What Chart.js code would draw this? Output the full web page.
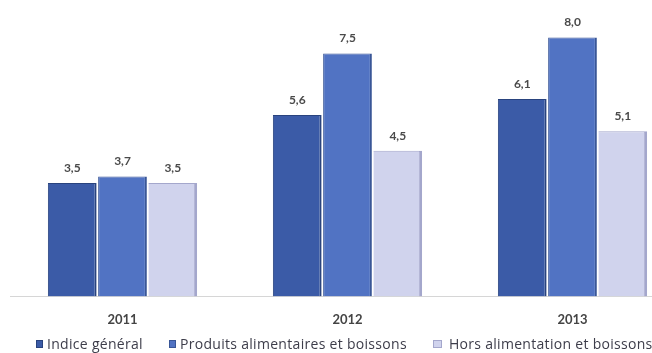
<!DOCTYPE html>
<html lang="fr">
<head>
    <meta charset="UTF-8">
    <title>Inflation 2011-2013</title>
    <script src="https://cdn.jsdelivr.net/npm/chart.js"></script>
    <style>
        body {
            margin: 0;
            background: #ffffff;
            overflow: hidden;
        }
        .chart-box {
            width: 695px;
            height: 353px;
            position: relative;
        }
        .legend {
            position: absolute;
            left: 36px;
            top: 335px;
            display: flex;
            gap: 26px;
            font-family: "Open Sans", sans-serif;
            font-size: 14px;
            letter-spacing: 0.3px;
            color: #3d3d4a;
            line-height: 18px;
            white-space: nowrap;
        }
        .legend span {
            display: flex;
            align-items: center;
        }
        .legend i {
            display: inline-block;
            width: 5px;
            height: 6px;
            margin-right: 4px;
        }
        .legend span:last-child i {
            width: 7px;
            margin-right: 7px;
        }
    </style>
</head>
<body>
    <div class="chart-box">
        <canvas id="inflationChart"></canvas>
        <div class="legend" id="legend"></div>
    </div>

    <script>
        const years = ['2011', '2012', '2013'];
        const seriesNames = ['Indice général', 'Produits alimentaires et boissons', 'Hors alimentation et boissons'];
        const indiceGeneral = [3.5, 5.6, 6.1];
        const produitsAlimentaires = [3.7, 7.5, 8.0];
        const horsAlimentation = [3.5, 4.5, 5.1];

        const fills = ['#3b5ba7', '#5173c3', '#d0d3ed'];
        const edges = ['#29437e', '#395697', '#a4a7cc'];

        // values written above each bar, French decimal comma
        const valueLabels = {
            id: 'valueLabels',
            afterDatasetsDraw(chart) {
                const ctx = chart.ctx;
                ctx.save();
                ctx.font = 'bold 12px Lato, "Open Sans", sans-serif';
                ctx.fillStyle = '#4a4a4a';
                ctx.textAlign = 'center';
                ctx.textBaseline = 'middle';
                chart.data.datasets.forEach((ds, i) => {
                    chart.getDatasetMeta(i).data.forEach((bar, j) => {
                        const txt = ds.data[j].toFixed(1).replace('.', ',');
                        ctx.fillText(txt, bar.x, bar.y - 15);
                    });
                });
                ctx.restore();
            }
        };

        const ctx = document.getElementById('inflationChart').getContext('2d');
        const chart = new Chart(ctx, {
            type: 'bar',
            data: {
                labels: years,
                datasets: [
                    {
                        label: seriesNames[0],
                        data: indiceGeneral,
                        backgroundColor: fills[0],
                        borderColor: edges[0],
                        borderWidth: { left: 1, right: 2, top: 1, bottom: 0 }
                    },
                    {
                        label: seriesNames[1],
                        data: produitsAlimentaires,
                        backgroundColor: fills[1],
                        borderColor: edges[1],
                        borderWidth: { left: 1, right: 2, top: 1, bottom: 0 }
                    },
                    {
                        label: seriesNames[2],
                        data: horsAlimentation,
                        backgroundColor: fills[2],
                        borderColor: edges[2],
                        borderWidth: { left: 0, right: 3, top: 1, bottom: 0 }
                    }
                ]
            },
            options: {
                responsive: true,
                maintainAspectRatio: false,
                animation: false,
                categoryPercentage: 0.67,
                barPercentage: 0.97,
                layout: {
                    padding: { left: 10, right: 10, top: 5, bottom: 17 }
                },
                plugins: {
                    legend: { display: false },
                    tooltip: { enabled: false }
                },
                scales: {
                    x: {
                        grid: { display: false },
                        border: { display: true, color: '#d6d6d6', width: 1 },
                        ticks: {
                            color: '#444444',
                            padding: 8,
                            font: { family: 'Lato, sans-serif', size: 13, weight: 'bold' }
                        }
                    },
                    y: {
                        display: false,
                        min: 0,
                        max: 9
                    }
                }
            },
            plugins: [valueLabels]
        });

        // legend row under the axis
        const legendEl = document.getElementById('legend');
        chart.data.datasets.forEach((ds, i) => {
            const item = document.createElement('span');
            const box = document.createElement('i');
            box.style.background = fills[i];
            box.style.border = '1px solid ' + edges[i];
            item.appendChild(box);
            item.appendChild(document.createTextNode(ds.label));
            legendEl.appendChild(item);
        });
    </script>
</body>
</html>
